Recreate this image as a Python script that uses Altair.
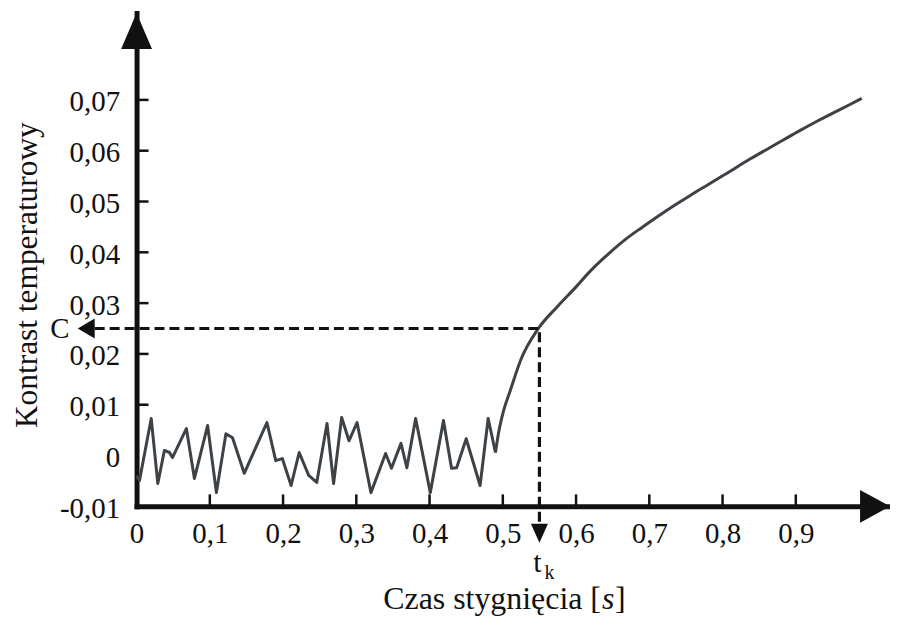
import altair as alt
import pandas as pd

# ---- data ----
T = [0.000, 0.004, 0.020, 0.029, 0.038, 0.045, 0.049, 0.068, 0.079, 0.097,
     0.109, 0.122, 0.131, 0.147, 0.178, 0.190, 0.199, 0.211, 0.222, 0.235,
     0.246, 0.260, 0.269, 0.280, 0.290, 0.301, 0.320, 0.340, 0.348, 0.361,
     0.369, 0.381, 0.401, 0.419, 0.430, 0.437, 0.450, 0.469, 0.480, 0.490,
     0.494, 0.501, 0.510, 0.525, 0.548, 0.575, 0.600, 0.620, 0.645, 0.667,
     0.690, 0.712, 0.735, 0.757, 0.780, 0.803, 0.838, 0.861, 0.884, 0.906,
     0.929, 0.952, 0.974, 0.990]
V = [-0.0040, -0.0049, 0.0073, -0.0055, 0.0010, 0.0006, -0.0004, 0.0053, -0.0045, 0.0059,
     -0.0073, 0.0043, 0.0035, -0.0035, 0.0065, -0.0010, -0.0006, -0.0059, 0.0006, -0.0039,
     -0.0053, 0.0063, -0.0055, 0.0075, 0.0029, 0.0065, -0.0073, 0.0004, -0.0025, 0.0024,
     -0.0024, 0.0073, -0.0073, 0.0069, -0.0025, -0.0024, 0.0033, -0.0059, 0.0073, 0.0006,
     0.0043, 0.0088, 0.0127, 0.0190, 0.0249, 0.0294, 0.0332, 0.0364, 0.0398, 0.0425,
     0.0449, 0.0471, 0.0493, 0.0513, 0.0533, 0.0553, 0.0584, 0.0603, 0.0622, 0.0640,
     0.0658, 0.0675, 0.0691, 0.0703]
SPLIT = 39  # index where the noisy part turns into the smooth rise

X_TICKS = [0.1, 0.2, 0.3, 0.4, 0.5, 0.6, 0.7, 0.8, 0.9]
Y_TICKS = [0.01, 0.02, 0.03, 0.04, 0.05, 0.06, 0.07]
X_LABELS = [0.0, 0.1, 0.2, 0.3, 0.4, 0.5, 0.6, 0.7, 0.8, 0.9]
Y_LABELS = [-0.01, 0.0, 0.01, 0.02, 0.03, 0.04, 0.05, 0.06, 0.07]
TK = 0.55      # t_k
C = 0.025      # C

X_TITLE = "Czas stygnięcia ["
X_TITLE_UNIT = "s"
Y_TITLE = "Kontrast temperaturowy"

# ---- layout ----
W, H = 756, 495
X_MAX = 1.0286
Y_MIN, Y_MAX = -0.01, 0.0871
FONT = "Liberation Serif"
INK = "#111111"
LINE = "#3d4247"


def xd(px):  # pixel offset in plot -> data x
    return px / W * X_MAX


def yd(py):  # pixel offset from plot top -> data y
    return Y_MAX - py / H * (Y_MAX - Y_MIN)


xs = alt.Scale(domain=[0, X_MAX], nice=False, zero=False)
ys = alt.Scale(domain=[Y_MIN, Y_MAX], nice=False, zero=False)

XAX = alt.Axis(
    values=X_LABELS, grid=False, tickSize=0, ticks=False, domain=True,
    domainColor=INK, domainWidth=5, domainCap="square", labelFlush=False,
    labelFont=FONT, labelFontSize=29, labelColor=INK, labelPadding=13,
    labelExpr="datum.value == 0 ? '0' : replace(format(datum.value, '.1f'), '.', ',')")
YAX = alt.Axis(
    values=Y_LABELS, grid=False, tickSize=0, ticks=False, domain=True,
    domainColor=INK, domainWidth=5, domainCap="square", labelFlush=False,
    labelFont=FONT, labelFontSize=29, labelColor=INK, labelPadding=17, labelOffset=2,
    labelExpr="datum.value == 0 ? '0' : (datum.value < 0 ? '-' + replace(format(-datum.value, '.2f'), '.', ',') : replace(format(datum.value, '.2f'), '.', ','))")


def X(f):
    return alt.X(f, scale=xs, title=None, axis=XAX)


def Y(f):
    return alt.Y(f, scale=ys, title=None, axis=YAX)


noise = pd.DataFrame({"t": T[:SPLIT + 1], "v": V[:SPLIT + 1]})
rise = pd.DataFrame({"t": T[SPLIT:], "v": V[SPLIT:]})

l1 = alt.Chart(noise).mark_line(color=LINE, strokeWidth=3, strokeJoin="round").encode(
    x=X("t:Q"), y=Y("v:Q"))
l2 = alt.Chart(rise).mark_line(color=LINE, strokeWidth=3, strokeJoin="round",
                               interpolate="monotone").encode(x=X("t:Q"), y=Y("v:Q"))

xt = alt.Chart(pd.DataFrame({"t": X_TICKS})).mark_rule(color=INK, strokeWidth=2.5).encode(
    x=X("t:Q"), y=alt.value(H), y2=alt.value(H - 12))
yt = alt.Chart(pd.DataFrame({"v": Y_TICKS})).mark_rule(color=INK, strokeWidth=2.5).encode(
    y=Y("v:Q"), x=alt.value(0), x2=alt.value(12))

dash = pd.DataFrame({
    "t": [xd(-42), TK, TK],
    "v": [C, C, yd(513)],
    "o": [0, 1, 2],
})
dashed = alt.Chart(dash).mark_line(color=INK, strokeWidth=3.2, strokeDash=[10, 5]).encode(
    x=X("t:Q"), y=Y("v:Q"), order="o:Q")

arrows = pd.DataFrame({
    "t": [0.0, xd(W - 15), TK, xd(-50.5)],
    "v": [yd(18), Y_MIN, yd(522), C],
    "shape": ["M0,-1L0.86,1L-0.86,1Z", "M0.91,0L-0.91,-1L-0.91,1Z",
              "M0,1L-0.9,-1L0.9,-1Z", "M-0.85,0L0.85,-1L0.85,1Z"],
    "size": [1296, 1089, 361, 400],
})
heads = alt.Chart(arrows).mark_point(filled=True, color=INK, opacity=1, strokeWidth=0).encode(
    x=X("t:Q"), y=Y("v:Q"),
    shape=alt.Shape("shape:N", scale=None), size=alt.Size("size:Q", scale=None))

lab_df = pd.DataFrame({"t": [TK], "v": [C]})
t_lab = alt.Chart(lab_df).mark_text(text="t", font=FONT, fontSize=30, color=INK,
                                    align="center", baseline="alphabetic", dx=-2).encode(
    x=X("t:Q"), y=alt.value(561))
k_lab = alt.Chart(lab_df).mark_text(text="k", font=FONT, fontSize=20, color=INK,
                                    align="left", baseline="alphabetic", dx=5).encode(
    x=X("t:Q"), y=alt.value(568))
c_lab = alt.Chart(lab_df).mark_text(text="C", font=FONT, fontSize=29, color=INK,
                                    align="center", baseline="middle", dy=1).encode(
    x=alt.value(-77), y=Y("v:Q"))

xt1 = alt.Chart(lab_df).mark_text(text=X_TITLE, font=FONT, fontSize=32, color=INK,
                                  align="right", baseline="alphabetic").encode(
    x=alt.value(466), y=alt.value(598))
xt2 = alt.Chart(lab_df).mark_text(text=X_TITLE_UNIT, font=FONT, fontSize=32, fontStyle="italic",
                                  color=INK, align="left", baseline="alphabetic").encode(
    x=alt.value(467), y=alt.value(598))
xt3 = alt.Chart(lab_df).mark_text(text="]", font=FONT, fontSize=32, color=INK,
                                  align="left", baseline="alphabetic").encode(
    x=alt.value(480), y=alt.value(598))
ytl = alt.Chart(lab_df).mark_text(text=Y_TITLE, font=FONT, fontSize=31.5, color=INK,
                                  align="center", baseline="alphabetic", angle=270).encode(
    x=alt.value(-100), y=alt.value(263))

chart = alt.layer(l1, l2, dashed, xt, yt, heads, t_lab, k_lab, c_lab, xt1, xt2, xt3, ytl).properties(
    width=W, height=H,
    autosize=alt.AutoSizeParams(type="none"),
    padding={"left": 129, "top": 4, "right": 0, "bottom": 111},
    background="white",
).configure_view(stroke=None).configure_axis(labelFont=FONT)

chart.save("out.html", embed_options={"renderer": "svg", "actions": False})
